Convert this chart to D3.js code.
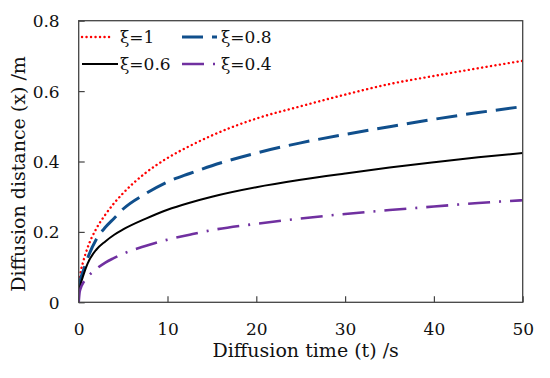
<!DOCTYPE html>
<html>
<head>
<meta charset="utf-8">
<script src="https://cdn.jsdelivr.net/npm/d3@7"></script>
<style>
  html, body { margin: 0; padding: 0; background: #fff; }
</style>
</head>
<body>
<svg id="chart" width="550" height="378"></svg>
<script>
// ---- data ----
const times   = [0, 0.1, 0.25, 0.5, 1, 2, 3, 4, 5, 7.5, 10, 12.5, 15, 20, 25, 30, 35, 40, 45, 50];
const xi1     = [0.06, 0.068, 0.09, 0.115, 0.155, 0.21, 0.249, 0.282, 0.31, 0.367, 0.41, 0.444, 0.474, 0.522, 0.557, 0.590, 0.620, 0.643, 0.665, 0.686];
const xi08    = [0.045, 0.055, 0.07, 0.088, 0.125, 0.18, 0.213, 0.239, 0.265, 0.308, 0.342, 0.366, 0.388, 0.424, 0.453, 0.477, 0.499, 0.520, 0.539, 0.556];
const xi06    = [0.03, 0.04, 0.055, 0.075, 0.11, 0.15, 0.173, 0.192, 0.207, 0.237, 0.263, 0.283, 0.300, 0.327, 0.348, 0.366, 0.383, 0.398, 0.412, 0.424];
const xi04    = [0.0, 0.028, 0.042, 0.055, 0.072, 0.095, 0.113, 0.126, 0.138, 0.160, 0.178, 0.192, 0.205, 0.223, 0.238, 0.251, 0.262, 0.272, 0.282, 0.290];
const seriesNames = ["ξ=1", "ξ=0.8", "ξ=0.6", "ξ=0.4"];
const xTicks = [0, 10, 20, 30, 40, 50];
const yTicks = [0, 0.2, 0.4, 0.6, 0.8];
const yTickLabels = ["0", "0.2", "0.4", "0.6", "0.8"];

const FONT = "'DejaVu Serif', 'Liberation Serif', serif";

// ---- layout ----
const svg = d3.select("#chart");
const L = 78.7, R = 522.7, T = 20.7, B = 302.3;
const x = d3.scaleLinear().domain([0, 50]).range([L, R]);
const y = d3.scaleLinear().domain([0, 0.8]).range([B, T]);

const styles = [
  { color: "#ff0000", width: 2.4, dash: "0.1 4.4", cap: "round" },
  { color: "#104f8c", width: 3.0, dash: "21 9", cap: "butt" },
  { color: "#000000", width: 2.0, dash: null, cap: "butt" },
  { color: "#7030a0", width: 2.6, dash: "22 9 2 9", cap: "butt" }
];
const allSeries = [xi1, xi08, xi06, xi04];

svg.append("defs").append("clipPath").attr("id", "clip")
  .append("rect").attr("x", L).attr("y", T).attr("width", R - L).attr("height", B - T);

// axes (ticks inward)
const xAxis = d3.axisBottom(x).tickValues(xTicks).tickSize(-6).tickPadding(21).tickFormat(d3.format("d"));
const yAxis = d3.axisLeft(y).tickValues(yTicks).tickSize(-6).tickPadding(19)
  .tickFormat((d, i) => yTickLabels[i]);

const gx = svg.append("g").attr("transform", `translate(0,${B})`).call(xAxis);
const gy = svg.append("g").attr("transform", `translate(${L},0)`).call(yAxis);
[gx, gy].forEach(g => {
  g.attr("font-family", FONT).attr("font-size", 17);
  g.select(".domain").remove();
  g.selectAll(".tick line").attr("stroke", "#444").attr("stroke-width", 1.2);
  g.selectAll(".tick text").attr("fill", "#111").attr("font-family", FONT).attr("font-size", 17);
});
gx.selectAll(".tick text").attr("dy", "0.71em");
gy.selectAll(".tick text").attr("dy", "0.35em");

// lines
const line = d3.line().x((d, i) => x(times[i])).y(d => y(d)).curve(d3.curveMonotoneX);
const plot = svg.append("g").attr("clip-path", "url(#clip)");
allSeries.forEach((s, k) => {
  const st = styles[k];
  plot.append("path").datum(s)
    .attr("d", line)
    .attr("fill", "none")
    .attr("stroke", st.color)
    .attr("stroke-width", st.width)
    .attr("stroke-linecap", st.cap)
    .attr("stroke-dasharray", st.dash);
});

// frame
svg.append("rect").attr("x", L).attr("y", T).attr("width", R - L).attr("height", B - T)
  .attr("fill", "none").attr("stroke", "#444").attr("stroke-width", 1.3);

// legend
const legendPos = [
  { x0: 82, x1: 113, tx: 120, y: 37 },
  { x0: 182, x1: 217, tx: 221, y: 37 },
  { x0: 82, x1: 118, tx: 120, y: 64 },
  { x0: 182, x1: 215, tx: 221, y: 64 }
];
seriesNames.forEach((name, k) => {
  const st = styles[k], p = legendPos[k];
  svg.append("line").attr("x1", p.x0).attr("x2", p.x1).attr("y1", p.y).attr("y2", p.y)
    .attr("stroke", st.color).attr("stroke-width", st.width)
    .attr("stroke-linecap", st.cap).attr("stroke-dasharray", st.dash);
  svg.append("text").attr("x", p.tx).attr("y", p.y).attr("dy", "0.35em")
    .attr("font-family", FONT).attr("font-size", 17).attr("fill", "#111").text(name);
});

// axis titles
svg.append("text").attr("x", (L + R) / 2 + 5).attr("y", 357).attr("text-anchor", "middle")
  .attr("font-family", FONT).attr("font-size", 19).attr("fill", "#111")
  .text("Diffusion time (t) /s");
svg.append("text").attr("transform", `translate(25,${174}) rotate(-90)`).attr("text-anchor", "middle")
  .attr("font-family", FONT).attr("font-size", 19).attr("fill", "#111")
  .text("Diffusion distance (x) /m");
</script>
</body>
</html>
